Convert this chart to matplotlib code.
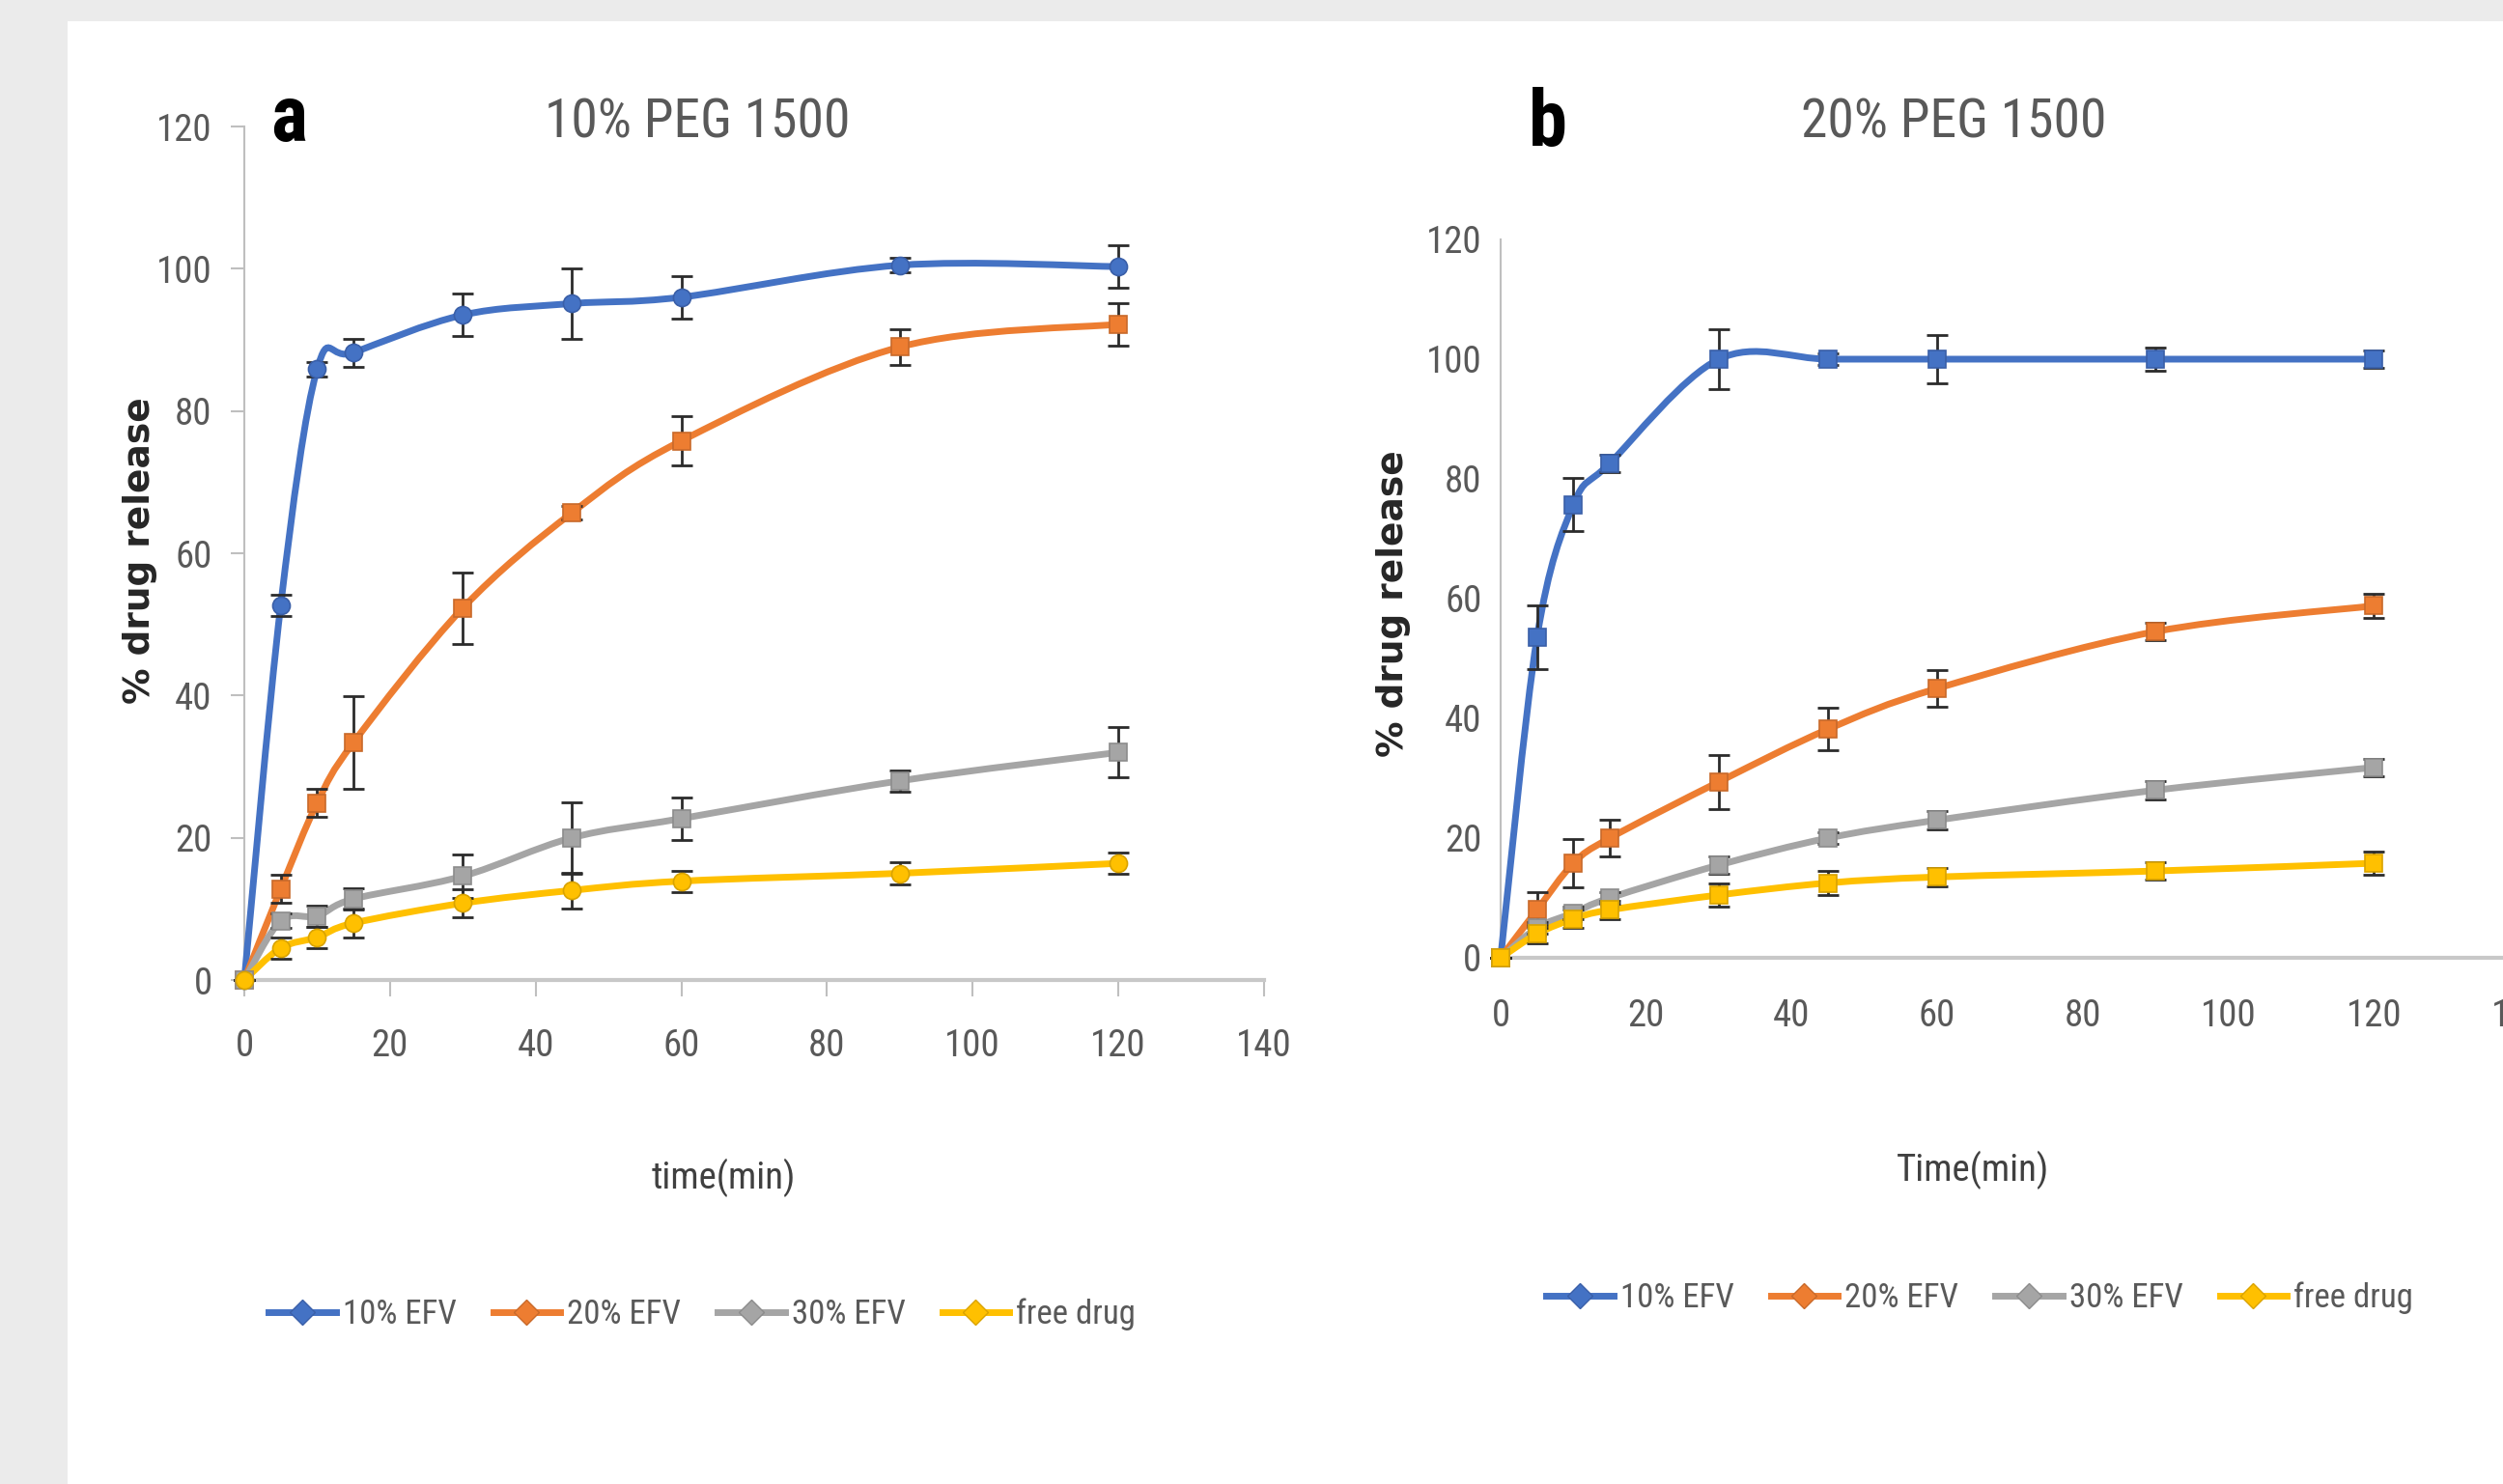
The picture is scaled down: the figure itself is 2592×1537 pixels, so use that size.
import numpy as np
import matplotlib
matplotlib.use("Agg")
import matplotlib.pyplot as plt
from matplotlib import font_manager
from matplotlib.path import Path
from matplotlib.patches import PathPatch, Rectangle
from matplotlib.lines import Line2D

# pick a narrow font if one is installed
names = {f.name for f in font_manager.fontManager.ttflist}
NARROW = next((n for n in ["Liberation Sans Narrow", "DejaVu Sans Condensed",
                           "Roboto Condensed", "Open Sans Condensed"] if n in names),
              "Liberation Sans")

# data
time = [0, 5, 10, 15, 30, 45, 60, 90, 120]
series = ["10% EFV", "20% EFV", "30% EFV", "free drug"]

a_10 = [0, 52.7, 85.9, 88.2, 93.5, 95.1, 96.0, 100.5, 100.3]
a_10_err = [0, 1.5, 1, 2, 3, 5, 3, 1, 3]
a_20 = [0, 12.8, 24.9, 33.4, 52.3, 65.7, 75.8, 89.0, 92.2]
a_20_err = [0, 2, 2, 6.5, 5, 1, 3.5, 2.5, 3]
a_30 = [0, 8.3, 9.0, 11.4, 14.6, 20.0, 22.7, 28.0, 32.0]
a_30_err = [0, 1, 1.5, 1.5, 3, 5, 3, 1.5, 3.5]
a_free = [0, 4.5, 6.0, 8.0, 10.8, 12.6, 13.9, 15.0, 16.4]
a_free_err = [0, 1.5, 1.5, 2, 2, 2.5, 1.5, 1.5, 1.5]

b_10 = [0, 53.5, 75.7, 82.6, 100, 100, 100, 100, 100]
b_10_err = [0, 5.3, 4.4, 1.5, 5, 1, 4, 2, 1.5]
b_20 = [0, 8.0, 15.8, 20.0, 29.4, 38.2, 45.0, 54.5, 58.8]
b_20_err = [0, 3, 4, 3, 4.5, 3.5, 3, 1.5, 2]
b_30 = [0, 5.0, 7.5, 10.0, 15.5, 20.0, 23.0, 28.0, 31.8]
b_30_err = [0, 1, 1, 1, 1.5, 1, 1.5, 1.5, 1.5]
b_free = [0, 4.0, 6.5, 8.0, 10.5, 12.5, 13.5, 14.5, 15.8]
b_free_err = [0, 1.5, 1.5, 1.5, 2, 2, 1.5, 1.5, 2]

colors = ["#4472C4", "#ED7D31", "#A5A5A5", "#FFC000"]
edge = ["#3a5fa8", "#c8692a", "#8c8c8c", "#d9a300"]

TICK_C = "#595959"


def smooth_path(x, y):
    # Excel-like smoothed line (Catmull-Rom as cubic Bezier)
    x = np.asarray(x, float)
    y = np.asarray(y, float)
    n = len(x)
    verts = [(x[0], y[0])]
    codes = [Path.MOVETO]
    for i in range(n - 1):
        i0 = max(i - 1, 0)
        i3 = min(i + 2, n - 1)
        c1 = (x[i] + (x[i + 1] - x[i0]) / 6, y[i] + (y[i + 1] - y[i0]) / 6)
        c2 = (x[i + 1] - (x[i3] - x[i]) / 6, y[i + 1] - (y[i3] - y[i]) / 6)
        verts += [c1, c2, (x[i + 1], y[i + 1])]
        codes += [Path.CURVE4] * 3
    return Path(verts, codes)


fig = plt.figure(figsize=(25.92, 15.37), dpi=100)
fig.patch.set_facecolor("#ebebeb")
fig.patches.append(Rectangle((70 / 2592, 0), 1, 1 - 22 / 1537,
                             transform=fig.transFigure, facecolor="white",
                             edgecolor="none", zorder=-5))


def panel(rect, data, markers, letter, title, xlabel, ytick_ticks, xticks_on,
          letter_xy, title_xy, ylab_xy, xlab_xy, leg_xy):
    ax = fig.add_axes(rect)
    ax.set_facecolor("none")
    for (vals, err), c, ec, m in zip(data, colors, edge, markers):
        ax.add_patch(PathPatch(smooth_path(time, vals), fill=False, edgecolor=c,
                               lw=5, zorder=3, capstyle="round", clip_on=False))
        ax.errorbar(time, vals, yerr=err, fmt="none", ecolor="#2b2b2b",
                    elinewidth=2, capsize=8, capthick=2, zorder=4, clip_on=False)
        ax.plot(time, vals, linestyle="none", marker=m, ms=13, mfc=c, mec=ec,
                mew=1.2, zorder=5, clip_on=False)
    ax.set_xlim(0, 140)
    ax.set_ylim(0, 120)
    ax.set_xticks(range(0, 141, 20))
    ax.set_yticks(range(0, 121, 20))
    for s in ["top", "right"]:
        ax.spines[s].set_visible(False)
    ax.spines["left"].set_color("#bfbfbf")
    ax.spines["left"].set_linewidth(1.5)
    ax.spines["bottom"].set_color("#c8c8c8")
    ax.spines["bottom"].set_linewidth(3)
    ax.tick_params(axis="y", length=10 if ytick_ticks else 0, width=1.5,
                   color="#bfbfbf", pad=14, labelcolor=TICK_C, labelsize=28)
    ax.tick_params(axis="x", length=12 if xticks_on else 0, width=1.5,
                   color="#bfbfbf", pad=24 if xticks_on else 30,
                   labelcolor=TICK_C, labelsize=28)
    for lab in ax.get_xticklabels() + ax.get_yticklabels():
        lab.set_fontfamily(NARROW)

    fig.text(*letter_xy, letter, fontsize=58, fontweight="bold", family=NARROW,
             color="black", ha="center", va="center")
    fig.text(*title_xy, title, fontsize=40, family=NARROW, color=TICK_C,
             ha="center", va="center")
    fig.text(*ylab_xy, "% drug release", fontsize=27, family="DejaVu Sans",
             fontweight="bold", color="#262626", rotation=90,
             ha="center", va="center")
    fig.text(*xlab_xy, xlabel, fontsize=28, family=NARROW, color="#404040",
             ha="center", va="center")

    handles = [Line2D([], [], color=c, lw=5, marker=m, ms=13, mfc=c, mec=ec)
               for c, ec, m in zip(colors, edge, ["D"] * 4)]
    fig.legend(handles, series, loc="center", bbox_to_anchor=leg_xy, ncol=4,
               frameon=False, handlelength=2.0, handletextpad=0.2,
               columnspacing=1.1, prop={"family": NARROW, "size": 25},
               labelcolor=TICK_C)
    return ax


W, H = 2592, 1537


def fx(px):
    return px / W


def fy(py):
    return 1 - py / H


data_a = [(a_10, a_10_err), (a_20, a_20_err), (a_30, a_30_err), (a_free, a_free_err)]
data_b = [(b_10, b_10_err), (b_20, b_20_err), (b_30, b_30_err), (b_free, b_free_err)]

panel([fx(253), fy(1015), fx(1309 - 253), (1015 - 131) / H], data_a,
      ["o", "s", "s", "o"], "a", "10% PEG 1500", "time(min)", True, True,
      (fx(299), fy(124)), (fx(722), fy(127)), (fx(145), fy(570)),
      (fx(749), fy(1220)), (fx(727), fy(1361)))

panel([fx(1554), fy(992), fx(2609 - 1554), (992 - 248) / H], data_b,
      ["s", "s", "s", "s"], "b", "20% PEG 1500", "Time(min)", False, False,
      (fx(1603), fy(129)), (fx(2023), fy(127)), (fx(1443), fy(625)),
      (fx(2043), fy(1212)), (fx(2050), fy(1344)))

fig.savefig("out.png", dpi=100, facecolor=fig.get_facecolor())
